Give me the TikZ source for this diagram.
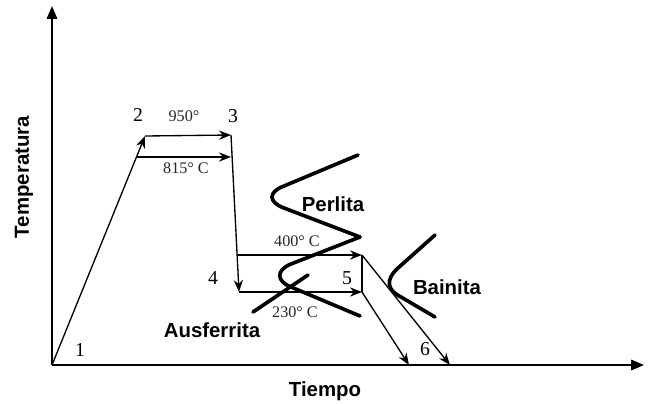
\documentclass[tikz,border=0pt]{standalone}
\usepackage{fontspec}
\setmainfont{Liberation Serif}
\setsansfont{Liberation Sans}
\usepackage{tikz}
\usetikzlibrary{arrows.meta, positioning}
\tikzstyle{axis} = [line width=1.3pt, -{Triangle[length=3.2mm, width=2.6mm]}]
\tikzstyle{arr} = [line width=0.95pt, -{Stealth[length=3mm, width=2.3mm]}]
\tikzstyle{seg} = [line width=0.95pt]
\tikzstyle{phase} = [line width=2.6pt, line cap=round, line join=round]
\tikzstyle{lbl} = [font=\sffamily\bfseries\fontsize{14.5}{17}\selectfont, inner sep=0pt]
\tikzstyle{num} = [font=\fontsize{14}{16}\selectfont, inner sep=0pt]
\tikzstyle{temp} = [font=\fontsize{11.5}{13}\selectfont, text=black!85, inner sep=0pt]

\begin{document}
\begin{tikzpicture}[x=0.025cm, y=-0.025cm]
  \useasboundingbox (0,0) rectangle (648,403);
  % Points of the cycle
  \coordinate (o) at (52,365);
  \coordinate (ytop) at (52,6);
  \coordinate (xend) at (644,365);
  \coordinate (p2) at (145,136);
  \coordinate (p3) at (231,135);
  \coordinate (a815) at (136,157);
  \coordinate (b815) at (231,157);
  \coordinate (p4) at (239,292);
  \coordinate (a400) at (237,255);
  \coordinate (p5) at (362,255);
  \coordinate (p5b) at (362,292);
  \coordinate (e1) at (409,365);
  \coordinate (e2) at (450,365);

  % Axes
  \draw[axis] (o) -- (ytop);
  \draw[axis] (o) -- (xend);

  % Process lines
  \draw[arr] (o) -- (p2);
  \draw[arr] (p2) -- (p3);
  \draw[arr] (a815) -- (b815);
  \draw[arr] (p3) -- (p4);
  \draw[arr] (a400) -- (p5);
  \draw[arr] (p4) -- (p5b);
  \draw[seg] (p5) -- (p5b);
  \draw[arr] (p5) -- (e2);
  \draw[arr] (p5b) -- (e1);

  % Transformation curves
  \draw[phase] (358,155) -- (284,186) .. controls (268,192) and (268,202) .. (284,208)
    -- (360,237) -- (291,264) .. controls (276,270) and (276,281) .. (291,287) -- (360,316);
  \draw[phase] (253,312) -- (308,275);
  \draw[phase] (435,235) -- (398,268) .. controls (385,280) and (387,290) .. (401,297) -- (435,317);

  % Labels
  \node[num] (n1) at (80,350) {1};
  \node[num] (n2) at (138,115) {2};
  \node[num] (n3) at (233,116) {3};
  \node[num] (n4) at (213,278) {4};
  \node[num] (n5) at (347,278) {5};
  \node[num] (n6) at (425,349) {6};
  \node[temp] (t950) at (184,116) {950°};
  \node[temp] (t815) at (186,168) {815° C};
  \node[temp] (t400) at (297,241) {400° C};
  \node[temp] (t230) at (295,312) {230° C};
  \node[lbl] (perl) at (333,204) {Perlita};
  \node[lbl] (bain) at (447,287) {Bainita};
  \node[lbl] (ausf) at (212,330) {Ausferrita};
  \node[lbl] (tiem) at (325,391) {Tiempo};
  \node[lbl, rotate=90] (temp) at (24,177) {Temperatura};
\end{tikzpicture}
\end{document}
